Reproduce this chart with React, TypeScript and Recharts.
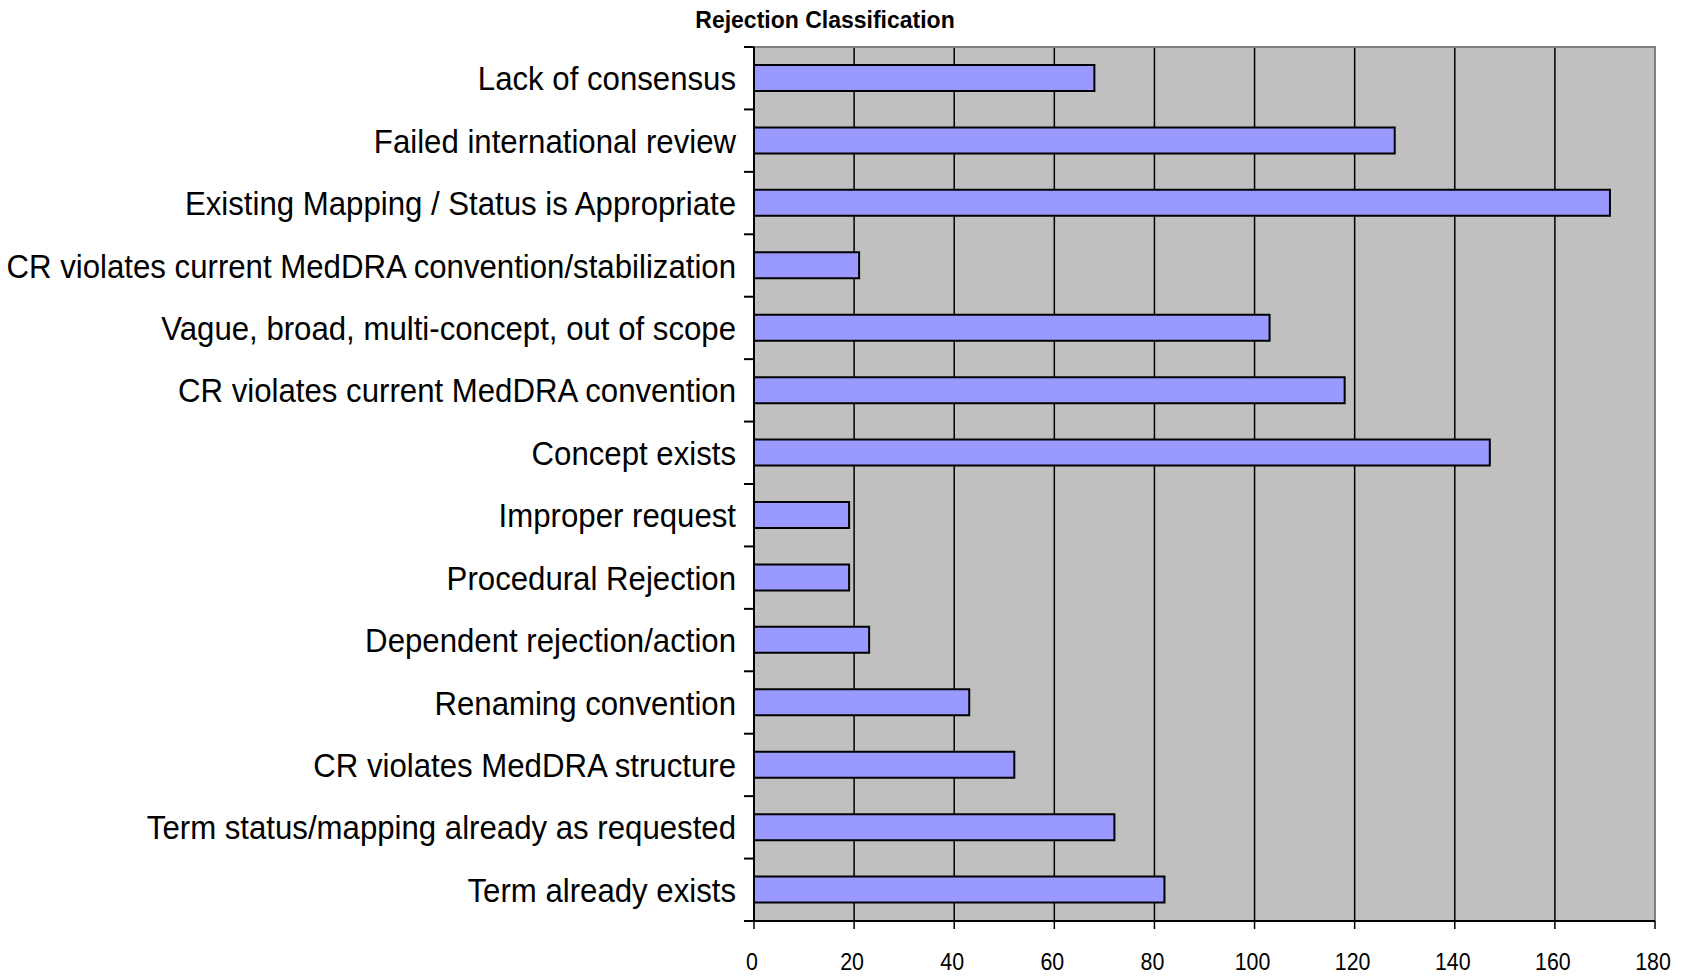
import React from 'react';
import { BarChart, Bar, XAxis, YAxis, CartesianGrid, ReferenceArea } from 'recharts';

const categories = [
  'Lack of consensus',
  'Failed international review',
  'Existing Mapping / Status is Appropriate',
  'CR violates current MedDRA convention/stabilization',
  'Vague, broad, multi-concept, out of scope',
  'CR violates current MedDRA convention',
  'Concept exists',
  'Improper request',
  'Procedural Rejection',
  'Dependent rejection/action',
  'Renaming convention',
  'CR violates MedDRA structure',
  'Term status/mapping already as requested',
  'Term already exists',
];

const counts = [68, 128, 171, 21, 103, 118, 147, 19, 19, 23, 43, 52, 72, 82];

const xTicks = [0, 20, 40, 60, 80, 100, 120, 140, 160, 180];

const data = categories.map((name, i) => ({ name, count: counts[i] }));

const FONT = '"Liberation Sans", Arial, sans-serif';
const PLOT_HEIGHT = 874;
const BAND = PLOT_HEIGHT / categories.length;

function CategoryTick(props: any) {
  const { x, y, payload, index } = props;
  const axisX = x + 8;
  return (
    <g>
      <line x1={axisX - 10} x2={axisX} y1={y - BAND / 2} y2={y - BAND / 2} stroke="#000" strokeWidth={2} />
      {index === categories.length - 1 && (
        <line x1={axisX - 10} x2={axisX} y1={y + BAND / 2} y2={y + BAND / 2} stroke="#000" strokeWidth={2} />
      )}
      <text
        transform={`translate(${axisX - 18}, ${y + 12}) scale(0.945, 1)`}
        textAnchor="end"
        fontFamily={FONT}
        fontSize={33}
        fill="#000"
      >
        {payload.value}
      </text>
    </g>
  );
}

function ValueTick(props: any) {
  const { x, y, payload } = props;
  return (
    <text
      transform={`translate(${x - 2}, ${y + 41}) scale(0.93, 1.05)`}
      textAnchor="middle"
      fontFamily={FONT}
      fontSize={23}
      fill="#000"
    >
      {payload.value}
    </text>
  );
}

export default function App() {
  return (
    <div style={{ position: 'absolute', left: 0, top: 0, width: 1690, height: 977, background: '#fff' }}>
      <div
        style={{
          position: 'absolute',
          left: 0,
          width: 1650,
          top: 6,
          textAlign: 'center',
          fontFamily: FONT,
          fontWeight: 'bold',
          fontSize: 23,
          lineHeight: '28px',
        }}
      >
        Rejection Classification
      </div>
      <BarChart
        width={1690}
        height={977}
        data={data}
        layout="vertical"
        margin={{ top: 47, right: 35, left: 0, bottom: 0 }}
        barSize={26}
      >
        <CartesianGrid horizontal={false} stroke="#000" strokeWidth={1.5} fill="#C0C0C0" fillOpacity={1} />
        <ReferenceArea x1={0} x2={180} stroke="#808080" strokeWidth={2} fill="none" fillOpacity={0} />
        <XAxis
          type="number"
          domain={[0, 180]}
          ticks={xTicks}
          interval={0}
          height={56}
          tickSize={8}
          tickMargin={0}
          axisLine={{ stroke: '#000', strokeWidth: 2 }}
          tickLine={{ stroke: '#000', strokeWidth: 1.5 }}
          tick={<ValueTick />}
        />
        <YAxis
          type="category"
          dataKey="name"
          width={754}
          interval={0}
          tickLine={false}
          tickSize={8}
          tickMargin={0}
          axisLine={{ stroke: '#000', strokeWidth: 2 }}
          tick={<CategoryTick />}
        />
        <Bar dataKey="count" fill="#9999FF" stroke="#000" strokeWidth={2} isAnimationActive={false} />
      </BarChart>
    </div>
  );
}
